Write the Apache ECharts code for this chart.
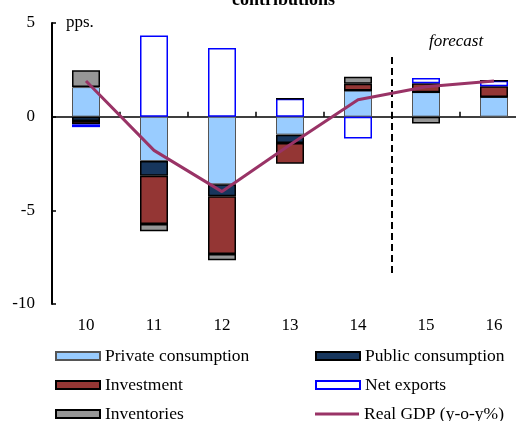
<!DOCTYPE html>
<html><head><meta charset="utf-8">
<script src="https://cdn.jsdelivr.net/npm/echarts@6/dist/echarts.min.js"></script>
<style>html,body{margin:0;padding:0;background:#fff;overflow:hidden}#c{width:528px;height:421px}</style>
</head><body><div id="c"></div><script>
const categories = ['10','11','12','13','14','15','16'];
const privateConsumption = [1.58, -2.37, -3.61, -0.96, 1.40, 1.31, 1.05];
const publicConsumption  = [-0.23, -0.78, -0.64, -0.45, 0, 0, 0];
const investment         = [-0.18, -2.58, -3.08, -1.10, 0.36, 0.47, 0.58];
const netExports         = [-0.15, 4.33, 3.66, 0.96, -1.17, 0.28, 0.29];
const inventories        = [0.90, -0.39, -0.33, 0, 0.37, -0.37, 0];
const realGDP            = [1.9, -1.8, -4.0, -1.5, 0.9, 1.6, 1.9];
const forecastDivider    = [[5, 3.18], [5, -8.37]];
const yTicks = {min: -10, max: 5, interval: 5};

const FONT = '"Liberation Serif", "DejaVu Serif", serif';
const chart = echarts.init(document.getElementById('c'), null, {renderer: 'canvas'});
function bar(name, data, color, border, bw) {
  return {name, type: 'bar', stack: 'c', data, barWidth: 28, xAxisIndex: 0,
    itemStyle: {color, borderColor: border, borderWidth: bw}, emphasis: {disabled: true}};
}
const legendText = {fontFamily: FONT, fontSize: 17.5, color: '#000'};
function leg(left, top, item) {
  return {left, top, padding: 0, itemWidth: 44, itemHeight: 8, textStyle: legendText,
    selectedMode: false, data: [item]};
}
chart.setOption({
  animation: false,
  textStyle: {fontFamily: FONT},
  title: {text: 'contributions', left: 227, top: -14,
    textStyle: {fontFamily: FONT, fontSize: 18, fontWeight: 'bold', color: '#000'}},
  grid: {left: 52, right: 0, top: 23, bottom: 117},
  legend: [
    leg(55, 347, {name: 'Private consumption', icon: 'rect'}),
    leg(55, 376, {name: 'Investment', icon: 'rect'}),
    leg(55, 405, {name: 'Inventories', icon: 'rect'}),
    leg(315, 347, {name: 'Public consumption', icon: 'rect'}),
    leg(315, 376, {name: 'Net exports', icon: 'rect'}),
    leg(315, 405, {name: 'Real GDP (y-o-y%)', icon: 'path://M0,0h44v3h-44z', itemStyle: {color: '#993366', borderWidth: 0}})
  ],
  xAxis: [
    {type: 'category', data: categories, position: 'bottom',
     axisLine: {show: false, onZero: false}, axisTick: {show: false},
     axisLabel: {fontFamily: FONT, fontSize: 17, color: '#000', margin: 13}},
    {type: 'category', data: categories, position: 'bottom',
     axisLine: {show: true, onZero: true, lineStyle: {color: '#000', width: 1.5}},
     axisTick: {show: true, inside: true, length: 5, lineStyle: {color: '#000', width: 1.5}},
     axisLabel: {show: false}},
    {type: 'value', min: 0, max: 7, show: false, axisLine: {onZero: false}}
  ],
  yAxis: {type: 'value', min: yTicks.min, max: yTicks.max, interval: yTicks.interval,
    axisLine: {show: true, onZero: false, lineStyle: {color: '#000', width: 2}},
    axisTick: {show: true, inside: true, length: 4, lineStyle: {color: '#000', width: 1.5}},
    splitLine: {show: false},
    axisLabel: {fontFamily: FONT, fontSize: 17, color: '#000', margin: 17}},
  graphic: [
    {type: 'text', left: 66, top: 14, style: {text: 'pps.', font: '17px ' + FONT, fill: '#000'}},
    {type: 'text', left: 429, top: 33, style: {text: 'forecast', font: 'italic 17px ' + FONT, fill: '#000'}}
  ],
  series: [
    bar('Private consumption', privateConsumption, '#99CCFF', '#555', 1),
    bar('Public consumption', publicConsumption, '#17365D', '#000', 1.5),
    bar('Investment', investment, '#943634', '#000', 1.5),
    bar('Net exports', netExports, '#FFFFFF', '#0000FF', 1.5),
    bar('Inventories', inventories, '#969696', '#000', 1.5),
    {name: 'Real GDP (y-o-y%)', type: 'line', data: realGDP, xAxisIndex: 0, symbol: 'none',
     lineStyle: {color: '#993366', width: 3}, itemStyle: {color: '#993366'}, z: 5},
    {name: 'divider', type: 'line', data: forecastDivider, xAxisIndex: 2, symbol: 'none',
     lineStyle: {color: '#000', width: 2, type: [7, 4]}, z: 4, silent: true}
  ]
});
</script></body></html>
